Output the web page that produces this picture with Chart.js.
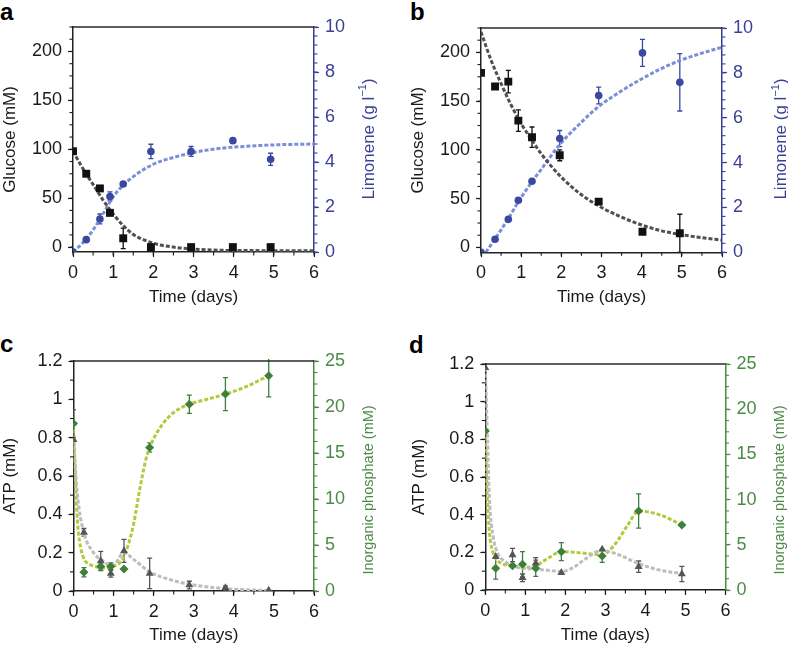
<!DOCTYPE html>
<html><head><meta charset="utf-8">
<style>
html,body{margin:0;padding:0;background:#fff;width:788px;height:646px;overflow:hidden;}
canvas{position:absolute;}
.lbl{position:absolute;font:bold 24px 'Liberation Sans',Arial,sans-serif;line-height:24px;color:#000;}
</style>
<script src="https://cdn.jsdelivr.net/npm/chart.js@4.4.0/dist/chart.umd.min.js"></script>
</head><body>
<div class="lbl" style="left:0px;top:0px">a</div>
<div class="lbl" style="left:410px;top:0px">b</div>
<div class="lbl" style="left:0px;top:332px">c</div>
<div class="lbl" style="left:409px;top:333px">d</div>
<canvas id="ca" style="left:0px;top:0px" width="394" height="320"></canvas>
<canvas id="cb" style="left:394px;top:0px" width="400" height="320"></canvas>
<canvas id="cc" style="left:0px;top:320px" width="394" height="326"></canvas>
<canvas id="cd" style="left:394px;top:320px" width="400" height="326"></canvas>
<script>
// ---------- Panel a ----------
const timeA = [0, 0.33, 0.67, 0.92, 1.25, 1.94, 2.94, 3.98, 4.92];
const glucoseA = [98, 75, 60, 35, 9, 0, 0, 0, 0];
const glucoseErrA = [0, 0, 0, 0, 10.5, 0, 0, 0, 0];
const limoneneA = [0, 0.55, 1.47, 2.47, 3.02, 4.47, 4.47, 4.95, 4.12];
const limoneneErrA = [0, 0, 0.22, 0.2, 0.1, 0.32, 0.22, 0.1, 0.27];
const fitTimeA = [0, 0.25, 0.5, 0.75, 1, 1.25, 1.5, 2, 2.5, 3, 3.5, 4, 5, 6];
const glucoseFitA = [98, 80, 64, 48, 34, 22, 13, 4, 0, -2, -3, -3.5, -3.6, -3.6];
const limoneneFitA = [0, 0.42, 0.98, 1.7, 2.45, 2.97, 3.35, 3.9, 4.2, 4.42, 4.57, 4.66, 4.76, 4.8];

// ---------- Panel b ----------
const timeB = [0, 0.35, 0.68, 0.93, 1.27, 1.96, 2.93, 4.02, 4.95];
const glucoseB = [179, 165, 170, 130, 113, 94.5, 47, 16, 14.5];
const glucoseErrB = [0, 0, 11.5, 11, 10.5, 5.6, 0, 0, 19.5];
const limoneneB = [0, 0.58, 1.47, 2.32, 3.17, 5.07, 6.99, 8.89, 7.58];
const limoneneErrB = [0, 0, 0, 0, 0, 0.36, 0.37, 0.6, 1.28];
const fitTimeGlcB = [0, 0.25, 0.5, 0.75, 1, 1.25, 1.5, 2, 2.5, 3, 3.5, 4, 4.5, 5, 5.5, 6];
const glucoseFitB = [221, 192, 168, 146, 127, 111, 96, 72, 54, 41, 31, 23, 17, 13, 10, 7.5];
const fitTimeLimB = [0.12, 0.35, 0.5, 0.68, 0.93, 1.27, 1.5, 1.96, 2.5, 2.93, 3.5, 4.02, 4.5, 4.95, 5.5, 6];
const limoneneFitB = [0, 0.6, 1.0, 1.5, 2.25, 3.15, 3.7, 4.8, 5.8, 6.5, 7.2, 7.75, 8.2, 8.55, 8.88, 9.14];

// ---------- Panel c ----------
const timeC = [0, 0.26, 0.68, 0.93, 1.26, 1.9, 2.89, 3.79, 4.87];
const atpC = [0.79, 0.306, 0.157, 0.092, 0.209, 0.092, 0.031, 0.017, 0.004];
const atpErrC = [0.08, 0.02, 0.05, 0.02, 0.06, 0.08, 0.02, 0.01, 0];
const piC = [18.2, 2.03, 2.65, 2.65, 2.39, 15.6, 20.3, 21.4, 23.4];
const piErrC = [1.5, 0.5, 0.4, 0.4, 0, 0.5, 1.0, 1.8, 2.3];
const fitTimeAtpC = [0, 0.1, 0.25, 0.5, 0.75, 0.9, 1.05, 1.25, 1.5, 1.9, 2.4, 2.9, 3.8, 4.9];
const atpFitC = [0.79, 0.5, 0.31, 0.2, 0.155, 0.135, 0.145, 0.2, 0.165, 0.1, 0.06, 0.035, 0.012, 0.002];
const fitTimePiC = [0, 0.05, 0.1, 0.15, 0.25, 0.4, 0.6, 0.8, 1.0, 1.2, 1.35, 1.5, 1.65, 1.8, 1.9, 2.2, 2.5, 2.89, 3.3, 3.79, 4.3, 4.87];
const piFitC = [18.2, 12, 7.5, 5.4, 3.6, 2.9, 2.6, 2.5, 2.7, 3.3, 4.8, 7.3, 11, 14.2, 15.6, 18.0, 19.4, 20.3, 20.8, 21.4, 22.2, 23.4];

// ---------- Panel d ----------
const timeD = [0, 0.26, 0.68, 0.93, 1.26, 1.9, 2.92, 3.83, 4.91];
const atpD = [1.18, 0.177, 0.186, 0.065, 0.142, 0.092, 0.216, 0.124, 0.085];
const atpErrD = [0, 0, 0.035, 0.02, 0.03, 0, 0, 0.03, 0.04];
const piD = [17.6, 2.4, 2.69, 2.84, 2.4, 4.24, 3.76, 8.74, 7.19];
const piErrD = [0, 1.2, 0, 1.4, 0.9, 1.0, 0.7, 1.9, 0];
const fitTimeAtpD = [0, 0.05, 0.1, 0.2, 0.3, 0.5, 0.8, 1.2, 1.6, 1.9, 2.2, 2.5, 2.9, 3.3, 3.8, 4.3, 4.9];
const atpFitD = [1.18, 0.85, 0.5, 0.28, 0.2, 0.15, 0.12, 0.112, 0.104, 0.098, 0.12, 0.165, 0.21, 0.19, 0.143, 0.108, 0.088];
const fitTimePiD = [0, 0.04, 0.11, 0.19, 0.4, 0.68, 0.93, 1.26, 1.56, 1.9, 2.4, 2.92, 3.23, 3.56, 3.83, 4.37, 4.91];
const piFitD = [17.6, 11.2, 6.1, 4.2, 2.95, 2.69, 2.5, 2.69, 3.5, 4.24, 4.1, 3.9, 5.0, 7.2, 8.74, 8.3, 7.19];

// ---------- Axis ticks / labels ----------
const timeTicks = {min: 0, max: 6, step: 1, minor: 0.5};
const glucoseAxis = {min: -5, max: 225, step: 50, minor: 12.5};
const limoneneAxisA = {min: 0, max: 10, step: 2, minor: 0.4};
const atpAxis = {min: 0, max: 1.2, step: 0.2, minor: 0.1};
const piAxis = {min: 0, max: 25, step: 5, minor: 1.25};

const FONT = "'Liberation Sans', Arial, Helvetica, sans-serif";
Chart.defaults.font.family = FONT;
Chart.defaults.font.size = 17;
Chart.defaults.color = '#1a1a1a';
Chart.defaults.animation = false;

const BLUE_AX = '#3b3f95', GREEN_AX = '#4b8b45', BLACK = '#1a1a1a';
const TICK_FONT = {size: 18};
const fmt = v => String(Math.round(v * 1000) / 1000);

function pts(xs, ys) { return xs.map((x, i) => ({x: x, y: ys[i]})); }

const framePlugin = { id: 'frame', afterDraw(chart) {
  const {ctx, chartArea: c} = chart;
  ctx.save(); ctx.strokeStyle = '#2a2a2a'; ctx.lineWidth = 1.5;
  ctx.beginPath(); ctx.moveTo(c.left, c.top); ctx.lineTo(c.right, c.top); ctx.stroke(); ctx.restore();
}};

const minorPlugin = { id: 'minorTicks', afterDraw(chart, args, o) {
  const ctx = chart.ctx;
  (o.axes || []).forEach(ax => {
    const s = chart.scales[ax.id];
    ctx.save(); ctx.strokeStyle = ax.color; ctx.lineWidth = 1.1;
    const i0 = Math.ceil(s.min / ax.step - 1e-9), i1 = Math.floor(s.max / ax.step + 1e-9);
    for (let i = i0; i <= i1; i++) {
      const p = s.getPixelForValue(i * ax.step);
      ctx.beginPath();
      if (s.isHorizontal()) { ctx.moveTo(p, s.top); ctx.lineTo(p, s.top + 3.5); }
      else if (s.position === 'left') { ctx.moveTo(s.right, p); ctx.lineTo(s.right - 3.5, p); }
      else { ctx.moveTo(s.left, p); ctx.lineTo(s.left + 3.5, p); }
      ctx.stroke();
    }
    ctx.restore();
  });
}};

const errorPlugin = { id: 'errorBars', beforeDatasetsDraw(chart) {
  const ctx = chart.ctx, c = chart.chartArea;
  ctx.save();
  ctx.beginPath(); ctx.rect(c.left, c.top - 2, c.right - c.left, c.bottom - c.top + 2); ctx.clip();
  chart.data.datasets.forEach(ds => {
    if (!ds.errorBars) return;
    const ys = chart.scales[ds.yAxisID], xs = chart.scales.x;
    ctx.strokeStyle = ds.borderColor; ctx.lineWidth = 1.3;
    ds.data.forEach((p, i) => {
      const e = ds.errorBars[i]; if (!e) return;
      const px = xs.getPixelForValue(p.x);
      const t = ys.getPixelForValue(p.y + e), b = ys.getPixelForValue(p.y - e);
      ctx.beginPath();
      ctx.moveTo(px, t); ctx.lineTo(px, b);
      ctx.moveTo(px - 2.5, t); ctx.lineTo(px + 2.5, t);
      ctx.moveTo(px - 2.5, b); ctx.lineTo(px + 2.5, b);
      ctx.stroke();
    });
  });
  ctx.restore();
}};

const sideTitlePlugin = { id: 'sideTitle', afterDraw(chart, args, o) {
  if (!o.parts) return;
  const ctx = chart.ctx;
  ctx.save();
  ctx.translate(chart.chartArea.right + o.offset, o.y);
  ctx.rotate(-Math.PI / 2);
  ctx.fillStyle = o.color; ctx.textBaseline = 'middle'; ctx.textAlign = 'left';
  const main = o.size + 'px ' + FONT, sup = Math.round(o.size * 0.62) + 'px ' + FONT;
  let total = 0;
  o.parts.forEach(p => { ctx.font = p.sup ? sup : main; total += ctx.measureText(p.t).width; });
  let x = -total / 2;
  o.parts.forEach(p => {
    ctx.font = p.sup ? sup : main;
    ctx.fillText(p.t, x, p.sup ? -o.size * 0.33 : 0);
    x += ctx.measureText(p.t).width;
  });
  ctx.restore();
}};

function makePanel(id, P) {
  const grid = (col) => ({drawOnChartArea: false, tickLength: 5, color: col, tickWidth: 1.2});
  new Chart(document.getElementById(id), {
    type: 'line',
    data: {datasets: P.datasets},
    options: {
      responsive: false, animation: false,
      layout: {padding: {top: P.top, left: 0, right: 0, bottom: 0}},
      plugins: {legend: {display: false}, tooltip: {enabled: false},
        minorTicks: {axes: [{id: 'x', step: timeTicks.minor, color: BLACK}, {id: 'y', step: P.left.minor, color: BLACK}, {id: 'y1', step: P.right.minor, color: P.rightColor}]},
        sideTitle: {parts: P.rightTitle, offset: P.rtOffset, y: P.rtY, size: P.rtSize, color: P.rightColor}},
      scales: {
        x: {type: 'linear', position: 'bottom', min: timeTicks.min, max: timeTicks.max,
          ticks: {stepSize: timeTicks.step, padding: 5, color: BLACK, font: TICK_FONT, callback: fmt}, grid: grid('#222'),
          border: {color: '#222', width: 1.5},
          title: {display: true, text: 'Time (days)', color: BLACK, font: {size: 17}, padding: {top: 0, bottom: P.xtPad}},
          afterFit(s) { s.height = P.xH; }},
        y: {type: 'linear', position: 'left', min: P.left.min, max: P.left.max,
          ticks: {stepSize: P.left.step, includeBounds: false, padding: 6, color: BLACK, font: TICK_FONT, callback: fmt}, grid: grid('#222'),
          border: {color: '#222', width: 1.5},
          title: {display: true, text: P.leftTitle, color: BLACK, font: {size: 17}, padding: {top: P.ltPad, bottom: 0}},
          afterFit(s) { s.width = P.leftW; }},
        y1: {type: 'linear', position: 'right', min: P.right.min, max: P.right.max,
          ticks: {stepSize: P.right.step, includeBounds: false, padding: 6, color: P.rightColor, font: TICK_FONT, callback: fmt}, grid: grid(P.rightColor),
          border: {color: P.rightColor, width: 1.5},
          afterFit(s) { s.width = P.rightW; }}
      }
    },
    plugins: [framePlugin, minorPlugin, errorPlugin, sideTitlePlugin]
  });
}

function marker(data, axis, style, r, col, err, order) {
  return {data: data, yAxisID: axis, showLine: false, pointStyle: style, pointRadius: r,
    backgroundColor: col, borderColor: col, pointBorderWidth: 0, errorBars: err, order: order};
}
function fit(data, axis, col, order) {
  return {data: data, yAxisID: axis, showLine: true, pointRadius: 0, borderColor: col, borderWidth: 3,
    borderDash: [4, 2], cubicInterpolationMode: 'monotone', fill: false, order: order};
}

const BLK = '#111111', BLUE = '#3a48a2', GFIT = '#505050', BFIT = '#7a8fd8';
const TRI = '#555555', DIA = '#3e7f3a', TFIT = '#bdbdbd', PFIT = '#b2c93e';
const limTitle = [{t: 'Limonene (g l'}, {t: '\u22121', sup: true}, {t: ')'}];
const piTitle = [{t: 'Inorganic phosphate (mM)'}];

makePanel('ca', {top: 27, leftW: 73, rightW: 80, xH: 68, xtPad: 12.8, ltPad: 0,
  left: glucoseAxis, right: limoneneAxisA, leftTitle: 'Glucose (mM)', rightColor: BLUE_AX,
  rightTitle: limTitle, rtOffset: 55, rtY: 139, rtSize: 17,
  datasets: [
    marker(pts(timeA, glucoseA), 'y', 'rect', 5.6, BLK, glucoseErrA, 1),
    marker(pts(timeA, limoneneA), 'y1', 'circle', 3.8, BLUE, limoneneErrA, 2),
    fit(pts(fitTimeA, glucoseFitA), 'y', GFIT, 3),
    fit(pts(fitTimeA, limoneneFitA), 'y1', BFIT, 4)
  ]});

makePanel('cb', {top: 28, leftW: 87, rightW: 72, xH: 67.7, xtPad: 12.8, ltPad: 13.8,
  left: glucoseAxis, right: limoneneAxisA, leftTitle: 'Glucose (mM)', rightColor: BLUE_AX,
  rightTitle: limTitle, rtOffset: 59.5, rtY: 139, rtSize: 17,
  datasets: [
    marker(pts(timeB, glucoseB), 'y', 'rect', 5.6, BLK, glucoseErrB, 1),
    marker(pts(timeB, limoneneB), 'y1', 'circle', 3.8, BLUE, limoneneErrB, 2),
    fit(pts(fitTimeGlcB, glucoseFitB), 'y', GFIT, 3),
    fit(pts(fitTimeLimB, limoneneFitB), 'y1', BFIT, 4)
  ]});

makePanel('cc', {top: 41, leftW: 73.5, rightW: 80, xH: 55, xtPad: 0.8, ltPad: 0,
  left: atpAxis, right: piAxis, leftTitle: 'ATP (mM)', rightColor: GREEN_AX,
  rightTitle: piTitle, rtOffset: 55, rtY: 170, rtSize: 14.5,
  datasets: [
    marker(pts(timeC, atpC), 'y', 'triangle', 4.6, TRI, atpErrC, 1),
    marker(pts(timeC, piC), 'y1', 'rectRot', 4.5, DIA, piErrC, 2),
    fit(pts(fitTimeAtpC, atpFitC), 'y', TFIT, 3),
    fit(pts(fitTimePiC, piFitC), 'y1', PFIT, 4)
  ]});

makePanel('cd', {top: 44, leftW: 91.3, rightW: 68.5, xH: 56, xtPad: 0, ltPad: 14.8,
  left: atpAxis, right: piAxis, leftTitle: 'ATP (mM)', rightColor: GREEN_AX,
  rightTitle: piTitle, rtOffset: 54.5, rtY: 170, rtSize: 14.5,
  datasets: [
    marker(pts(timeD, atpD), 'y', 'triangle', 4.6, TRI, atpErrD, 1),
    marker(pts(timeD, piD), 'y1', 'rectRot', 4.5, DIA, piErrD, 2),
    fit(pts(fitTimeAtpD, atpFitD), 'y', TFIT, 3),
    fit(pts(fitTimePiD, piFitD), 'y1', PFIT, 4)
  ]});
</script>
</body></html>
